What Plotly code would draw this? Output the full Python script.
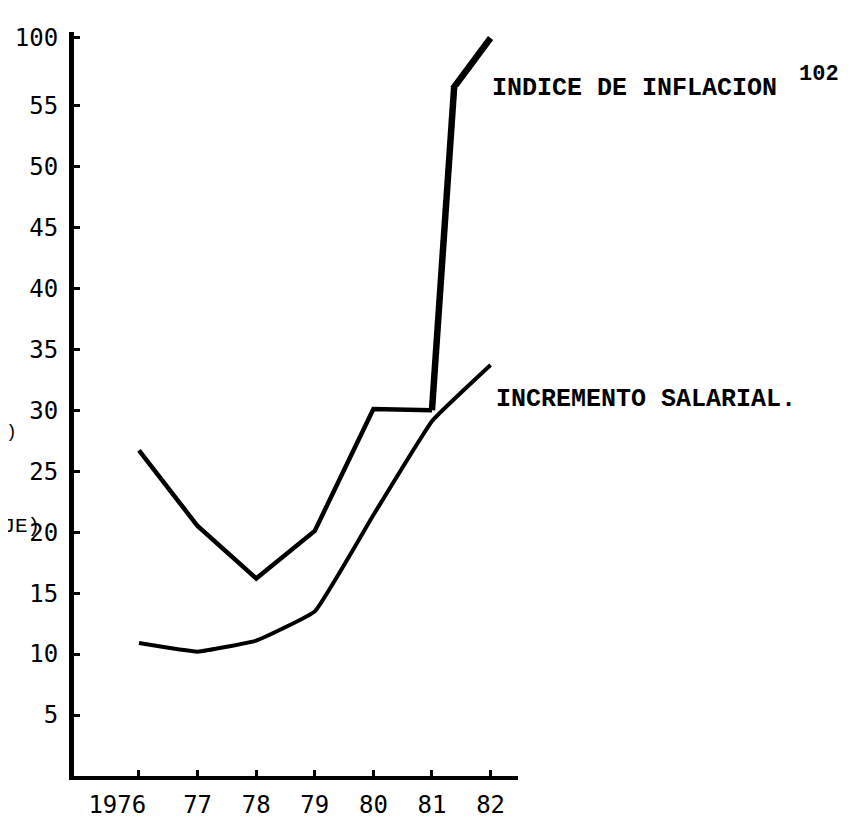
import plotly.graph_objects as go

# ---- data ----
years = [1976, 1977, 1978, 1979, 1980, 1981, 1982]
year_labels = ["1976\u00a0\u00a0\u00a0", "77", "78", "79", "80", "81", "82"]
inflacion = [26.7, 20.5, 16.2, 20.1, 30.1, 30.0, 100.0]
salarial = [10.9, 10.2, 11.1, 13.5, 21.4, 29.1, 33.7]
y_ticks_low = [5, 10, 15, 20, 25, 30, 35, 40, 45, 50, 55]
y_ticks_high = [100]

FONT_NUM = "DejaVu Sans Mono"
FONT_TYPE = "Liberation Mono"

fig = go.Figure()

for ya in ["y", "y2"]:
    # inflation (thinner part)
    fig.add_trace(go.Scatter(x=years[:-1], y=inflacion[:-1], mode="lines",
                             line=dict(color="black", width=4.5),
                             yaxis=ya, showlegend=False, hoverinfo="skip"))
    # inflation steep final rise (thicker stroke)
    fig.add_trace(go.Scatter(x=years[-2:], y=inflacion[-2:], mode="lines",
                             line=dict(color="black", width=6.5),
                             yaxis=ya, showlegend=False, hoverinfo="skip"))
    # salary increase
    fig.add_trace(go.Scatter(x=years, y=salarial, mode="lines",
                             line=dict(color="black", width=4, shape="spline", smoothing=0.3),
                             yaxis=ya, showlegend=False, hoverinfo="skip"))

LOW_TOP = 0.926

fig.update_layout(
    width=850, height=812,
    margin=dict(l=66, r=340, t=24, b=44),
    paper_bgcolor="white", plot_bgcolor="white",
    xaxis=dict(range=[1974.891, 1982.468], tickvals=years, ticktext=year_labels,
               tickangle=0, automargin=False,
               showline=True, linecolor="black", linewidth=4,
               ticks="inside", ticklen=6, tickwidth=3, tickcolor="black",
               showgrid=False, zeroline=False, ticklabelstandoff=4,
               tickfont=dict(family=FONT_NUM, size=24, color="black"),
               anchor="y"),
    yaxis=dict(domain=[0, LOW_TOP], range=[0, 56.5], tickvals=y_ticks_low,
               automargin=False,
               showline=True, linecolor="black", linewidth=5,
               ticks="inside", ticklen=6, tickwidth=3, tickcolor="black",
               showgrid=False, zeroline=False, ticklabelstandoff=6,
               tickfont=dict(family=FONT_NUM, size=24, color="black")),
    yaxis2=dict(domain=[LOW_TOP, 1], range=[56.5, 105.3], tickvals=y_ticks_high,
                automargin=False,
                showline=True, linecolor="black", linewidth=5,
                ticks="inside", ticklen=6, tickwidth=3, tickcolor="black",
                showgrid=False, zeroline=False, ticklabelstandoff=6,
                tickfont=dict(family=FONT_NUM, size=24, color="black"),
                anchor="x"),
    showlegend=False,
)

annos = [
    dict(text="INDICE DE INFLACION", x=0.937, y=0.9247, size=25, bold=True, anchor="left"),
    dict(text="INCREMENTO SALARIAL.", x=0.946, y=0.5067, size=25, bold=True, anchor="left"),
    dict(text="102", x=1.628, y=0.9435, size=22, bold=True, anchor="left"),
    dict(text="(PORCENTAJE)", x=-0.072, y=0.3347, size=21, bold=False, anchor="right"),
    dict(text="ANUAL)", x=-0.124, y=0.4624, size=18, bold=False, anchor="right"),
]
for a in annos:
    txt = f"<b>{a['text']}</b>" if a["bold"] else a["text"]
    fig.add_annotation(text=txt, x=a["x"], y=a["y"], xref="paper", yref="paper",
                       xanchor=a["anchor"], yanchor="middle", showarrow=False,
                       font=dict(family=FONT_TYPE, size=a["size"], color="black"))

fig.write_html("out.html")
